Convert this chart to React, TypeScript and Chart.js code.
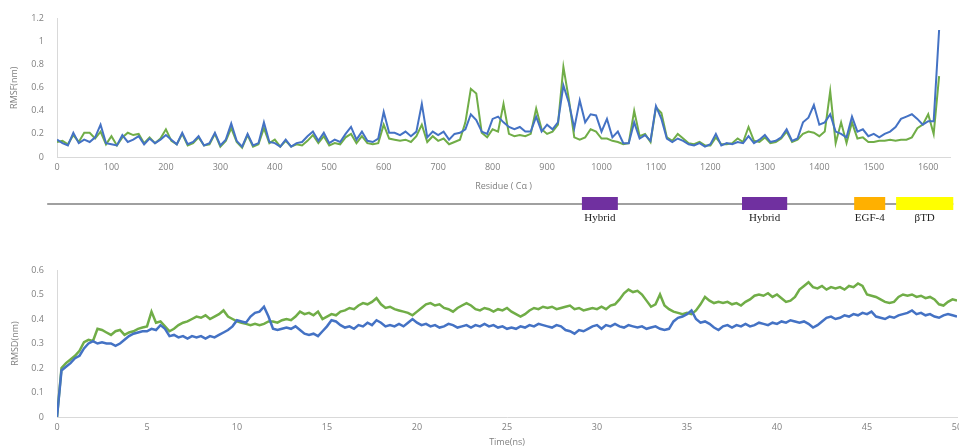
import React, { useEffect, useRef } from "react";
import { Chart, registerables } from "chart.js";

Chart.register(...registerables);

// ---------- RMSF (top) : residue step 10, residues 0..1620 ----------
const RESIDUE_STEP = 10;
const RMSF_BLUE = [
  0.15, 0.12, 0.10, 0.21, 0.12, 0.15, 0.13, 0.17, 0.28, 0.12,
  0.11, 0.10, 0.19, 0.13, 0.15, 0.18, 0.11, 0.16, 0.12, 0.15,
  0.19, 0.15, 0.11, 0.21, 0.11, 0.13, 0.18, 0.10, 0.12, 0.21,
  0.10, 0.15, 0.29, 0.14, 0.09, 0.20, 0.10, 0.12, 0.30, 0.13,
  0.12, 0.09, 0.15, 0.09, 0.12, 0.13, 0.18, 0.22, 0.14, 0.21,
  0.12, 0.15, 0.13, 0.20, 0.26, 0.15, 0.22, 0.14, 0.13, 0.16,
  0.39, 0.21, 0.21, 0.19, 0.22, 0.18, 0.22, 0.46, 0.17, 0.22,
  0.19, 0.22, 0.15, 0.20, 0.21, 0.24, 0.37, 0.32, 0.22, 0.20,
  0.33, 0.35, 0.30, 0.26, 0.24, 0.26, 0.22, 0.22, 0.35, 0.22,
  0.28, 0.24, 0.30, 0.62, 0.47, 0.25, 0.49, 0.30, 0.37, 0.36,
  0.22, 0.33, 0.17, 0.22, 0.12, 0.12, 0.30, 0.16, 0.19, 0.14,
  0.44, 0.33, 0.16, 0.13, 0.16, 0.14, 0.11, 0.10, 0.12, 0.09,
  0.11, 0.20, 0.10, 0.12, 0.11, 0.13, 0.12, 0.18, 0.12, 0.15,
  0.19, 0.13, 0.14, 0.17, 0.24, 0.14, 0.16, 0.30, 0.34, 0.45,
  0.28, 0.30, 0.37, 0.22, 0.20, 0.17, 0.35, 0.22, 0.24, 0.18,
  0.20, 0.17, 0.20, 0.22, 0.26, 0.33, 0.35, 0.37, 0.33, 0.28,
  0.31, 0.31, 1.10,
];
const RMSF_GREEN = [
  0.13, 0.14, 0.11, 0.19, 0.13, 0.21, 0.21, 0.16, 0.22, 0.11,
  0.18, 0.10, 0.17, 0.21, 0.19, 0.20, 0.12, 0.17, 0.12, 0.16,
  0.24, 0.14, 0.11, 0.20, 0.10, 0.12, 0.17, 0.10, 0.11, 0.20,
  0.09, 0.14, 0.25, 0.13, 0.08, 0.19, 0.09, 0.11, 0.25, 0.12,
  0.15, 0.09, 0.14, 0.09, 0.11, 0.10, 0.14, 0.19, 0.12, 0.18,
  0.10, 0.12, 0.11, 0.17, 0.20, 0.12, 0.18, 0.12, 0.11, 0.12,
  0.28, 0.16, 0.15, 0.14, 0.15, 0.13, 0.18, 0.28, 0.13, 0.18,
  0.14, 0.16, 0.11, 0.13, 0.15, 0.30, 0.59, 0.55, 0.21, 0.17,
  0.24, 0.22, 0.46, 0.20, 0.18, 0.19, 0.18, 0.20, 0.42, 0.24,
  0.20, 0.22, 0.28, 0.78, 0.50, 0.17, 0.15, 0.17, 0.24, 0.22,
  0.16, 0.16, 0.14, 0.13, 0.11, 0.12, 0.40, 0.18, 0.20, 0.13,
  0.43, 0.38, 0.17, 0.14, 0.20, 0.16, 0.12, 0.11, 0.13, 0.10,
  0.10, 0.17, 0.11, 0.11, 0.12, 0.16, 0.13, 0.26, 0.14, 0.13,
  0.17, 0.12, 0.13, 0.16, 0.22, 0.13, 0.15, 0.20, 0.22, 0.21,
  0.18, 0.22, 0.57, 0.12, 0.30, 0.12, 0.30, 0.16, 0.17, 0.13,
  0.13, 0.14, 0.14, 0.15, 0.14, 0.15, 0.15, 0.17, 0.25, 0.28,
  0.37, 0.20, 0.70,
];
const RMSF_X_MAX = 1640;

// ---------- Domain diagram (residue ranges) ----------
const DOMAIN_NAMES = ["Hybrid", "Hybrid", "EGF-4", "βTD"];
const DOMAIN_START = [964, 1258, 1464, 1541];
const DOMAIN_END = [1030, 1341, 1521, 1646];
const DOMAIN_COLORS = ["#7030A0", "#7030A0", "#FFB000", "#FFFF00"];
const BACKBONE_RANGE = [-18, 1646];

// ---------- RMSD (bottom) : time step 0.25 ns, 0..50 ns ----------
const TIME_STEP = 0.25;
const RMSD_BLUE = [
  0, 0.19, 0.205, 0.22, 0.24, 0.25, 0.28, 0.30,
  0.31, 0.30, 0.305, 0.30, 0.30, 0.29, 0.30, 0.315,
  0.33, 0.34, 0.345, 0.35, 0.35, 0.36, 0.355, 0.375,
  0.36, 0.33, 0.335, 0.325, 0.33, 0.32, 0.33, 0.325,
  0.33, 0.32, 0.33, 0.325, 0.335, 0.345, 0.355, 0.37,
  0.395, 0.39, 0.385, 0.41, 0.425, 0.43, 0.45, 0.41,
  0.36, 0.355, 0.36, 0.365, 0.36, 0.37, 0.355, 0.34,
  0.335, 0.34, 0.33, 0.35, 0.37, 0.395, 0.39, 0.375,
  0.365, 0.37, 0.36, 0.375, 0.37, 0.385, 0.375, 0.395,
  0.385, 0.37, 0.375, 0.37, 0.38, 0.37, 0.385, 0.40,
  0.385, 0.375, 0.38, 0.37, 0.375, 0.365, 0.37, 0.38,
  0.375, 0.365, 0.37, 0.375, 0.365, 0.375, 0.37, 0.38,
  0.37, 0.375, 0.365, 0.37, 0.36, 0.365, 0.36, 0.37,
  0.365, 0.375, 0.37, 0.38, 0.375, 0.37, 0.365, 0.375,
  0.37, 0.355, 0.35, 0.34, 0.355, 0.35, 0.36, 0.37,
  0.375, 0.36, 0.375, 0.37, 0.38, 0.37, 0.365, 0.375,
  0.37, 0.365, 0.37, 0.36, 0.365, 0.37, 0.36, 0.355,
  0.36, 0.39, 0.405, 0.41, 0.42, 0.435, 0.40, 0.385,
  0.39, 0.38, 0.365, 0.355, 0.37, 0.375, 0.365, 0.375,
  0.37, 0.38, 0.37, 0.375, 0.385, 0.38, 0.375, 0.385,
  0.38, 0.39, 0.385, 0.395, 0.39, 0.385, 0.39, 0.38,
  0.365, 0.375, 0.39, 0.405, 0.41, 0.40, 0.405, 0.415,
  0.41, 0.42, 0.415, 0.425, 0.42, 0.43, 0.41, 0.405,
  0.40, 0.41, 0.405, 0.415, 0.42, 0.425, 0.435, 0.42,
  0.425, 0.415, 0.42, 0.41, 0.405, 0.415, 0.42, 0.415,
  0.41,
];
const RMSD_GREEN = [
  0, 0.20, 0.22, 0.235, 0.25, 0.27, 0.305, 0.315,
  0.31, 0.36, 0.355, 0.345, 0.335, 0.35, 0.355, 0.335,
  0.345, 0.35, 0.36, 0.365, 0.37, 0.43, 0.385, 0.39,
  0.37, 0.35, 0.36, 0.375, 0.385, 0.39, 0.40, 0.41,
  0.405, 0.415, 0.40, 0.41, 0.42, 0.435, 0.41, 0.40,
  0.39, 0.385, 0.38, 0.375, 0.38, 0.375, 0.38, 0.39,
  0.39, 0.385, 0.395, 0.40, 0.395, 0.41, 0.43, 0.42,
  0.425, 0.415, 0.43, 0.40, 0.41, 0.42, 0.415, 0.43,
  0.435, 0.445, 0.44, 0.455, 0.465, 0.46, 0.47, 0.485,
  0.46, 0.445, 0.45, 0.44, 0.435, 0.43, 0.425, 0.415,
  0.43, 0.445, 0.46, 0.465, 0.455, 0.46, 0.445, 0.44,
  0.43, 0.445, 0.455, 0.465, 0.455, 0.44, 0.435, 0.445,
  0.44, 0.43, 0.44, 0.435, 0.445, 0.43, 0.42, 0.41,
  0.42, 0.435, 0.445, 0.44, 0.45, 0.445, 0.45, 0.44,
  0.445, 0.45, 0.455, 0.44, 0.445, 0.435, 0.44, 0.445,
  0.44, 0.45, 0.44, 0.455, 0.46, 0.48, 0.505, 0.52,
  0.51, 0.515, 0.50, 0.475, 0.45, 0.46, 0.50, 0.455,
  0.44, 0.43, 0.425, 0.42, 0.425, 0.42, 0.435, 0.46,
  0.49, 0.475, 0.465, 0.47, 0.465, 0.47, 0.46, 0.465,
  0.455, 0.47, 0.48, 0.495, 0.50, 0.495, 0.505, 0.49,
  0.50, 0.485, 0.47, 0.475, 0.49, 0.52, 0.535, 0.55,
  0.53, 0.525, 0.535, 0.52, 0.53, 0.525, 0.53, 0.52,
  0.535, 0.53, 0.545, 0.535, 0.50, 0.495, 0.49, 0.48,
  0.47, 0.465, 0.47, 0.49, 0.50, 0.495, 0.50, 0.49,
  0.495, 0.485, 0.49, 0.48, 0.46, 0.455, 0.47, 0.48,
  0.475,
];

const BLUE = "#4472C4";
const GREEN = "#70AD47";
const AXIS_GRAY = "#d9d9d9";
const LABEL_GRAY = "#808080";
const TICK_FONT = { family: "'Open Sans', 'Liberation Sans', sans-serif", size: 9 };

const fmt = (v: number | string) => String(Number(Number(v).toFixed(2)));

const domainPlugin = {
  id: "domainDiagram",
  afterDraw(chart: any) {
    const xs = chart.scales.x;
    const ctx = chart.ctx as CanvasRenderingContext2D;
    const lineY = 204;
    const boxTop = 197;
    const boxH = 13;
    ctx.save();
    ctx.strokeStyle = "#808080";
    ctx.lineWidth = 1.5;
    ctx.beginPath();
    ctx.moveTo(xs.getPixelForValue(BACKBONE_RANGE[0]), lineY);
    ctx.lineTo(xs.getPixelForValue(BACKBONE_RANGE[1]), lineY);
    ctx.stroke();
    ctx.font = "11px 'Liberation Serif', 'DejaVu Serif', serif";
    ctx.textAlign = "center";
    ctx.textBaseline = "middle";
    DOMAIN_NAMES.forEach((name, i) => {
      const x0 = xs.getPixelForValue(DOMAIN_START[i]);
      const x1 = xs.getPixelForValue(DOMAIN_END[i]);
      ctx.fillStyle = DOMAIN_COLORS[i];
      ctx.fillRect(x0, boxTop, x1 - x0, boxH);
      ctx.fillStyle = "#222222";
      ctx.fillText(name, (x0 + x1) / 2, 218);
    });
    ctx.restore();
  },
};

export default function App() {
  const topRef = useRef<HTMLCanvasElement | null>(null);
  const botRef = useRef<HTMLCanvasElement | null>(null);

  useEffect(() => {
    if (!topRef.current || !botRef.current) return;

    const axisCommon = (title: string, titlePad: any) => ({
      grid: { display: false, drawTicks: false },
      border: { display: true, color: AXIS_GRAY, width: 1 },
      title: {
        display: true,
        text: title,
        font: TICK_FONT,
        color: LABEL_GRAY,
        padding: titlePad,
      },
    });

    const topChart = new Chart(topRef.current, {
      type: "line",
      data: {
        datasets: [
          {
            label: "blue",
            data: RMSF_BLUE.map((v, i) => ({ x: i * RESIDUE_STEP, y: v })),
            borderColor: BLUE,
            borderWidth: 2,
            pointRadius: 0,
            tension: 0,
          },
          {
            label: "green",
            data: RMSF_GREEN.map((v, i) => ({ x: i * RESIDUE_STEP, y: v })),
            borderColor: GREEN,
            borderWidth: 2,
            pointRadius: 0,
            tension: 0,
          },
        ],
      },
      options: {
        animation: false,
        responsive: false,
        maintainAspectRatio: false,
        layout: { padding: { top: 13, right: 9, bottom: 43, left: 0 } },
        plugins: { legend: { display: false }, tooltip: { enabled: false } },
        scales: {
          x: {
            type: "linear",
            min: 0,
            max: RMSF_X_MAX,
            ...axisCommon("Residue ( Cα )", { top: 0, bottom: 0 }),
            ticks: {
              stepSize: 100,
              includeBounds: false,
              padding: 5,
              maxRotation: 0,
              autoSkip: false,
              font: TICK_FONT,
              color: LABEL_GRAY,
              callback: (v: any) => fmt(v),
            },
            afterFit: (s: any) => {
              s.height = 35;
            },
          },
          y: {
            min: 0,
            max: 1.2,
            ...axisCommon("RMSF(nm)", { top: 9, bottom: 0 }),
            ticks: {
              stepSize: 0.2,
              padding: 13,
              font: TICK_FONT,
              color: LABEL_GRAY,
              callback: (v: any) => fmt(v),
            },
            afterFit: (s: any) => {
              s.width = 57;
            },
          },
        },
      } as any,
      plugins: [domainPlugin],
    });

    const botChart = new Chart(botRef.current, {
      type: "line",
      data: {
        datasets: [
          {
            label: "blue",
            data: RMSD_BLUE.map((v, i) => ({ x: i * TIME_STEP, y: v })),
            borderColor: BLUE,
            borderWidth: 2.5,
            pointRadius: 0,
            tension: 0,
          },
          {
            label: "green",
            data: RMSD_GREEN.map((v, i) => ({ x: i * TIME_STEP, y: v })),
            borderColor: GREEN,
            borderWidth: 2.5,
            pointRadius: 0,
            tension: 0,
          },
        ],
      },
      options: {
        animation: false,
        responsive: false,
        maintainAspectRatio: false,
        layout: { padding: { top: 35, right: 23, bottom: 0, left: 0 } },
        plugins: { legend: { display: false }, tooltip: { enabled: false } },
        scales: {
          x: {
            type: "linear",
            min: 0,
            max: 50,
            ...axisCommon("Time(ns)", { top: 0, bottom: 0 }),
            ticks: {
              stepSize: 5,
              padding: 5,
              maxRotation: 0,
              autoSkip: false,
              font: TICK_FONT,
              color: LABEL_GRAY,
              callback: (v: any) => fmt(v),
            },
            afterFit: (s: any) => {
              s.height = 31;
            },
          },
          y: {
            min: 0,
            max: 0.6,
            ...axisCommon("RMSD(nm)", { top: 10, bottom: 0 }),
            ticks: {
              stepSize: 0.1,
              padding: 13,
              font: TICK_FONT,
              color: LABEL_GRAY,
              callback: (v: any) => fmt(v),
            },
            afterFit: (s: any) => {
              s.width = 57;
            },
          },
        },
      } as any,
    });

    return () => {
      topChart.destroy();
      botChart.destroy();
    };
  }, []);

  return (
    <div
      style={{
        position: "absolute",
        left: 0,
        top: 0,
        width: 959,
        height: 448,
        overflow: "hidden",
        background: "#ffffff",
      }}
    >
      <canvas
        ref={topRef}
        width={959}
        height={235}
        style={{ position: "absolute", left: 0, top: 0, display: "block" }}
      />
      <canvas
        ref={botRef}
        width={980}
        height={213}
        style={{ position: "absolute", left: 0, top: 235, display: "block" }}
      />
    </div>
  );
}
